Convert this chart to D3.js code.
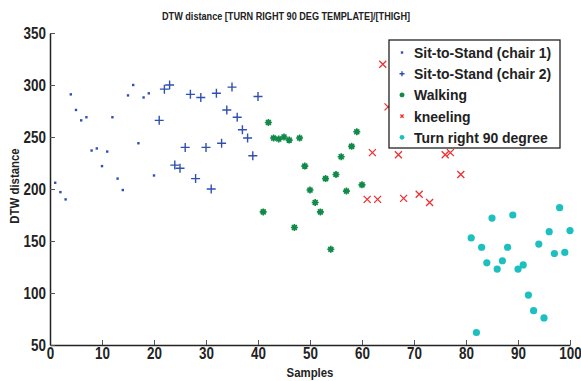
<!DOCTYPE html>
<html>
<head>
<meta charset="utf-8">
<script src="https://cdn.jsdelivr.net/npm/d3@7"></script>
<style>
body{margin:0;background:#fff;}
text{font-family:"Liberation Sans",Arial,sans-serif;font-weight:bold;fill:#222;}
</style>
</head>
<body>
<svg id="chart" width="581" height="381"></svg>
<script>
const xTicks = [0,10,20,30,40,50,60,70,80,90,100];
const yTicks = [50,100,150,200,250,300,350];

const chair1X = [1,2,3,4,5,6,7,8,9,10,11,12,13,14,15,16,17,18,19,20];
const chair1Y = [206,197,190,291,276,266,269,237,239,222,236,269,210,199,290,300,244,288,292,213];

const chair2X = [21,22,23,24,25,26,27,28,29,30,31,32,33,34,35,36,37,38,39,40];
const chair2Y = [266,296,300,223,220,240,291,210,288,240,200,292,244,276,298,269,257,249,232,289];

const walkX = [41,42,43,44,45,46,47,48,49,50,51,52,53,54,55,56,57,58,59,60];
const walkY = [178,264,249,248,250,247,163,249,222,199,187,178,210,142,214,231,198,241,255,204];

const kneelX = [61,62,63,64,65,67,68,71,73,76,77,79];
const kneelY = [190,235,190,320,279,233,191,195,187,233,235,214];

const turnX = [81,82,83,84,85,86,87,88,89,90,91,92,93,94,95,96,97,98,99,100];
const turnY = [153,62,144,129,172,123,131,144,175,123,127,98,83,147,76,159,138,182,139,160];

const legendLabels = ["Sit-to-Stand (chair 1)","Sit-to-Stand (chair 2)","Walking","kneeling","Turn right 90 degree"];
const colors = {chair1:"#3050b0", chair2:"#3050b0", walk:"#108a48", kneel:"#ee3030", turn:"#1cc0c0"};

const svg = d3.select("#chart");
const m = {left:50, right:570, top:33, bottom:345};
const x = d3.scaleLinear().domain([0,100]).range([m.left, m.right]);
const y = d3.scaleLinear().domain([50,350]).range([m.bottom, m.top]);

const SX = 0.84;
// axes
const xAxis = d3.axisBottom(x).tickValues(xTicks).tickSizeInner(-5).tickSizeOuter(0).tickPadding(9);
const yAxis = d3.axisLeft(y).tickValues(yTicks).tickSizeInner(-5).tickSizeOuter(0).tickPadding(9);
const gx = svg.append("g").attr("transform",`translate(0,${m.bottom})`).call(xAxis);
const gy = svg.append("g").attr("transform",`translate(${m.left},0)`).call(yAxis);
[gx,gy].forEach(g=>{
  g.select(".domain").attr("stroke","#222").attr("stroke-width",1.5);
  g.selectAll(".tick line").attr("stroke","#555").attr("stroke-width",1);
  g.selectAll(".tick text").style("font-size","16px").style("font-weight","bold")
   .style("font-family",'"Liberation Sans",Arial,sans-serif').attr("fill","#222")
   .attr("transform",`scale(${SX},1)`);
});
gx.selectAll(".tick text").attr("dy","0.71em").attr("y",3);
gy.selectAll(".tick text").attr("x",-4/SX).attr("dy","0.36em");

function sText(px,py,str,size,sx,anchor){
  return svg.append("text").attr("transform",`translate(${px},${py}) scale(${sx},1)`)
    .attr("text-anchor",anchor||"middle").style("font-size",size+"px").text(str);
}
// title & labels
sText(286,20,"DTW distance [TURN RIGHT 90 DEG TEMPLATE]/[THIGH]",11,0.83);
sText(310,377,"Samples",12,0.95);
svg.append("text").attr("transform","translate(19,186) rotate(-90) scale(0.95,1)").attr("text-anchor","middle").style("font-size","12px").text("DTW distance");

const pts = (xs,ys)=>xs.map((d,i)=>[d,ys[i]]);
const plot = svg.append("g");

function drawMarker(g, type, cx, cy, color, s){
  if(type==="dot"){
    g.append("rect").attr("x",cx-1.2).attr("y",cy-1.2).attr("width",2.4).attr("height",2.4).attr("fill",color);
  } else if(type==="plus"){
    const r = s||4.5;
    g.append("path").attr("d",`M${cx-r},${cy}H${cx+r}M${cx},${cy-r}V${cy+r}`).attr("stroke",color).attr("stroke-width",1.4).attr("fill","none");
  } else if(type==="star"){
    const r = s||3.5;
    let d="";
    for(let k=0;k<4;k++){const a=k*Math.PI/4;d+=`M${cx-r*Math.cos(a)},${cy-r*Math.sin(a)}L${cx+r*Math.cos(a)},${cy+r*Math.sin(a)}`;}
    g.append("circle").attr("cx",cx).attr("cy",cy).attr("r",r*0.75).attr("fill",color).attr("opacity",0.6);
    g.append("path").attr("d",d).attr("stroke",color).attr("stroke-width",1.6).attr("fill","none");
  } else if(type==="x"){
    const r = s||3.5;
    g.append("path").attr("d",`M${cx-r},${cy-r}L${cx+r},${cy+r}M${cx-r},${cy+r}L${cx+r},${cy-r}`).attr("stroke",color).attr("stroke-width",1.3).attr("fill","none");
  } else if(type==="circle"){
    g.append("circle").attr("cx",cx).attr("cy",cy).attr("r",s||3.6).attr("fill",color);
  }
}

const series = [
  {data:pts(chair1X,chair1Y), type:"dot", color:colors.chair1},
  {data:pts(chair2X,chair2Y), type:"plus", color:colors.chair2},
  {data:pts(walkX,walkY), type:"star", color:colors.walk},
  {data:pts(kneelX,kneelY), type:"x", color:colors.kneel},
  {data:pts(turnX,turnY), type:"circle", color:colors.turn}
];
series.forEach(s=>{
  s.data.forEach(d=>drawMarker(plot, s.type, x(d[0]), y(d[1]), s.color));
});

// legend
const lg = svg.append("g");
lg.append("rect").attr("x",389).attr("y",40).attr("width",171).attr("height",108)
  .attr("fill","#fff").attr("stroke","#222").attr("stroke-width",1.3);
legendLabels.forEach((lab,i)=>{
  const cy = 52.5 + i*21.2;
  const s = series[i];
  const sz = {dot:undefined, plus:2.5, star:2.4, x:1.6, circle:2.4}[s.type];
  drawMarker(lg, s.type, 402, cy, s.color, sz);
  lg.append("text").attr("transform",`translate(414,${cy+5.5}) scale(0.9,1)`).style("font-size","15.5px").text(lab);
});
</script>
</body>
</html>
